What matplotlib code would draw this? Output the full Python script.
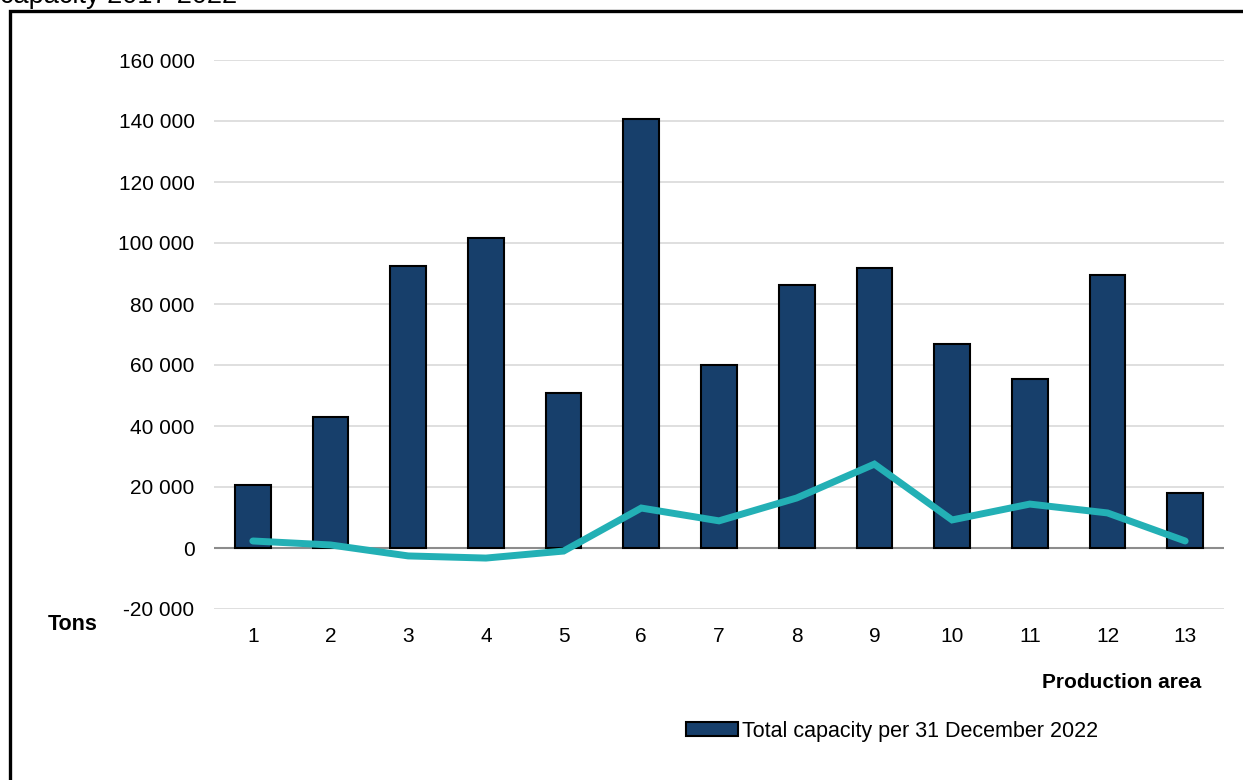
import matplotlib
matplotlib.use("Agg")
import matplotlib.pyplot as plt
from matplotlib.patches import Rectangle
from matplotlib.ticker import FuncFormatter

plt.rcParams['font.family'] = ['Liberation Sans', 'DejaVu Sans']

areas = [str(i) for i in range(1, 14)]
capacity_2022 = [20700, 43000, 92500, 101700, 50800, 140700, 60000,
                 86300, 91800, 66900, 55400, 89500, 18000]
change_2017_2022 = [2300, 1000, -2600, -3300, -1000, 13100, 8900,
                    16400, 27500, 9200, 14400, 11500, 2300]
yticks = [-20000, 0, 20000, 40000, 60000, 80000, 100000, 120000, 140000, 160000]

W, H = 1243, 780
fig = plt.figure(figsize=(W / 100, H / 100), dpi=100)

def fx(px):
    return px / W

def fy(py):
    return 1 - py / H

FS = 15

# Outer frame (cut off at right and bottom)
fig.patches.append(Rectangle((fx(10.5), fy(1000)), 2.0, fy(11) - fy(1000),
                             transform=fig.transFigure, fill=False,
                             edgecolor='black', linewidth=2.4, zorder=0))
fig.text(fx(0), fy(3), "capacity 2017-2022", fontsize=19.5, ha='left',
         va='baseline', color='black')

ax = fig.add_axes([fx(214), fy(609), fx(1224) - fx(214), fy(60) - fy(609)])
x = list(range(len(areas)))
ax.bar(x, capacity_2022, width=0.46, color='#173F6B', edgecolor='black',
       linewidth=1.5, zorder=3, label='Total capacity per 31 December 2022')
ax.plot(x, change_2017_2022, color='#23B0B5', linewidth=5,
        solid_capstyle='round', solid_joinstyle='miter', zorder=4)

ax.set_xlim(-0.5, len(areas) - 0.5)
ax.set_ylim(-20000, 160000)
ax.set_yticks(yticks)
ax.yaxis.set_major_formatter(FuncFormatter(lambda v, p: f"{int(v):,}".replace(",", " ")))
ax.set_xticks(x)
ax.set_xticklabels(areas)
ax.tick_params(axis='both', length=0, labelsize=FS)
ax.tick_params(axis='x', pad=13)
ax.tick_params(axis='y', pad=14)
for s in ax.spines.values():
    s.set_visible(False)
ax.grid(axis='y', color='#D9D9D9', linewidth=1.2, zorder=0)
ax.axhline(0, color='#8C8C8C', linewidth=1.5, zorder=2)

fig.text(fx(73), fy(625), "Tons", fontsize=FS + 0.5, fontweight='bold',
         ha='center', va='center')
fig.text(fx(1201), fy(682), "Production area", fontsize=FS,
         fontweight='bold', ha='right', va='center')

h, l = ax.get_legend_handles_labels()
fig.legend(h, l, loc='center left', bbox_to_anchor=(fx(686), fy(731)),
           frameon=False, fontsize=FS + 0.5, handlelength=2.4,
           handletextpad=0.22, borderpad=0, borderaxespad=0, handleheight=0.6)

fig.savefig("out.png", dpi=100)
